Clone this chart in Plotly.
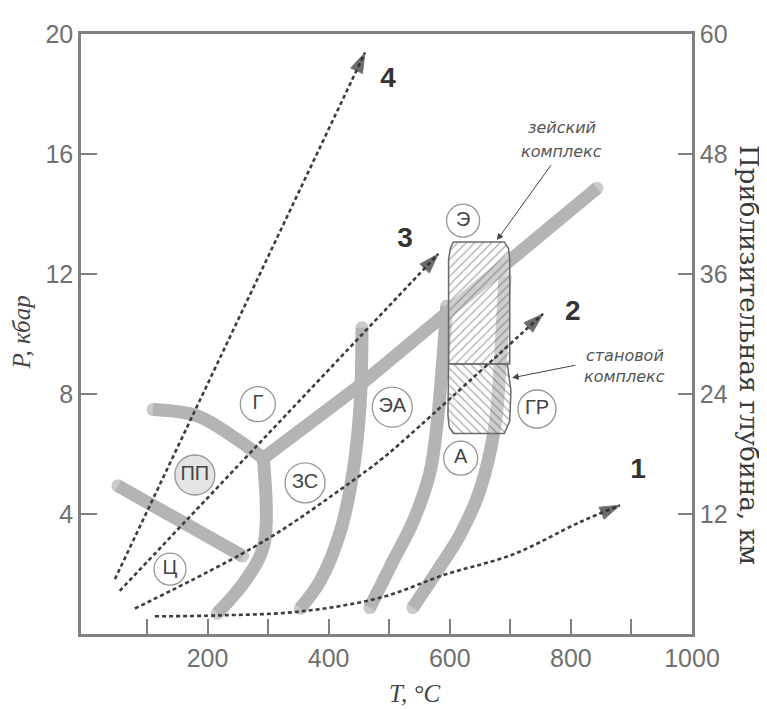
import plotly.graph_objects as go

# ---------------- data (T in °C, P in kbar) ----------------
# facies boundary bands
b_pp_g_T = [110, 183, 242, 292]
b_pp_g_P = [7.48, 7.27, 6.58, 5.86]
b_pp_c_T = [52, 258]
b_pp_c_P = [4.94, 2.60]
b_vert_T = [292, 293, 262, 216]
b_vert_P = [5.86, 2.98, 1.77, 0.69]
b_diag_T = [292, 447, 843]
b_diag_P = [5.86, 8.22, 14.86]
b_zs_ea_T = [455, 452, 440, 419, 386, 353]
b_zs_ea_P = [10.21, 7.66, 5.37, 3.40, 1.77, 0.85]
b_ea_a_T = [595, 579, 567, 539, 506, 468]
b_ea_a_P = [10.93, 7.00, 5.37, 3.73, 2.42, 0.88]
b_a_gr_T = [691, 683, 675, 650, 617, 579, 539]
b_a_gr_P = [11.91, 8.97, 7.00, 4.81, 3.31, 2.09, 0.88]

# hatched complexes
zeya_T = [606, 690, 697, 699, 699, 598, 598, 601]
zeya_P = [13.07, 13.07, 12.85, 12.5, 9.0, 9.0, 12.5, 12.85]
stan_T = [598, 695, 701, 699, 690, 606, 599, 597]
stan_P = [9.0, 9.0, 8.1, 7.1, 6.68, 6.68, 6.9, 7.3]

# geotherm paths
path1_T = [113, 220, 353, 485, 595, 704, 815, 881]
path1_P = [0.59, 0.62, 0.75, 1.21, 2.00, 2.65, 3.73, 4.29]
path2_T = [80, 292, 435, 485, 518, 754]
path2_P = [0.85, 3.08, 5.04, 5.79, 6.35, 10.67]
path3_T = [55, 581]
path3_P = [1.44, 12.67]
path4_T = [47, 460]
path4_P = [1.83, 19.38]

path_nums = ["1", "2", "3", "4"]
path_num_T = [911, 803, 526, 498]
path_num_P = [5.43, 10.70, 13.13, 18.46]

# facies labels
facies = ["Г", "ПП", "ЗС", "Ц", "ЭА", "ГР", "А", "Э"]
facies_T = [283, 179, 361, 138, 505, 744, 618, 622]
facies_P = [7.66, 5.30, 5.04, 2.16, 7.56, 7.50, 5.86, 13.78]
facies_size = [35, 40, 40, 32, 40, 38, 34, 33]

x_tickvals = [100, 200, 300, 400, 500, 600, 700, 800, 900, 1000]
x_ticktext = ["", "200", "", "400", "", "600", "", "800", "", "1000"]
y_tickvals = [4, 8, 12, 16, 20]
y2_tickvals = [12, 24, 36, 48, 60]

# ---------------- figure ----------------
fig = go.Figure()
band_col, band_w = "#b4b4b4", 13
for T, P, shp in [(b_pp_g_T, b_pp_g_P, "spline"), (b_pp_c_T, b_pp_c_P, "linear"),
                  (b_vert_T, b_vert_P, "spline"), (b_diag_T, b_diag_P, "linear"),
                  (b_zs_ea_T, b_zs_ea_P, "spline"), (b_ea_a_T, b_ea_a_P, "spline"),
                  (b_a_gr_T, b_a_gr_P, "spline")]:
    n = len(T)
    fig.add_trace(go.Scatter(x=T, y=P, mode="lines+markers",
                             line=dict(color=band_col, width=band_w, shape=shp),
                             marker=dict(color=band_col, size=[band_w] + [0] * (n - 2) + [band_w],
                                         line=dict(width=0)),
                             hoverinfo="skip", showlegend=False))

for T, P, pat in [(zeya_T, zeya_P, "/"), (stan_T, stan_P, "\\")]:
    fig.add_trace(go.Scatter(x=T + T[:1], y=P + P[:1], mode="lines", fill="toself",
                             line=dict(color="#6a6a6a", width=1.5),
                             fillcolor="rgba(255,255,255,0.35)",
                             fillpattern=dict(shape=pat, fgcolor="#5a5a5a", bgcolor="rgba(255,255,255,0.35)",
                                              size=6, solidity=0.22),
                             hoverinfo="skip", showlegend=False))

for T, P in [(path1_T, path1_P), (path2_T, path2_P), (path3_T, path3_P), (path4_T, path4_P)]:
    n = len(T)
    fig.add_trace(go.Scatter(x=T, y=P, mode="lines+markers",
                             line=dict(color="#3c3c3c", width=2.6, dash="4px,3px", shape="spline"),
                             marker=dict(symbol="arrow", angleref="previous", color="#2e2e2e",
                                         size=[0] * (n - 1) + [21]),
                             hoverinfo="skip", showlegend=False))

fill_cols = ["white"] * len(facies)
fill_cols[1] = "#dadada"
fig.add_trace(go.Scatter(x=facies_T, y=facies_P, mode="markers+text", text=facies,
                         textposition="middle center",
                         textfont=dict(family="Liberation Sans", size=20, color="#444444"),
                         marker=dict(symbol="circle", size=facies_size, color=fill_cols,
                                     line=dict(color="#6a6a6a", width=1.3)),
                         hoverinfo="skip", showlegend=False))

fig.add_trace(go.Scatter(x=path_num_T, y=path_num_P, mode="text", text=path_nums,
                         textfont=dict(family="Liberation Sans", size=28, color="#333333", weight="bold"),
                         hoverinfo="skip", showlegend=False))

# invisible trace for the depth axis
fig.add_trace(go.Scatter(x=[0], y=[0], yaxis="y2", mode="markers",
                         marker=dict(opacity=0), hoverinfo="skip", showlegend=False))

small = dict(family="DejaVu Sans", size=16, color="#555555", style="italic")
fig.add_annotation(x=785, y=16.89, text="зейский", showarrow=False, font=small)
fig.add_annotation(x=785, y=16.07, text="комплекс", showarrow=False, font=small)
fig.add_annotation(x=889, y=9.30, text="становой", showarrow=False, font=small)
fig.add_annotation(x=889, y=8.58, text="комплекс", showarrow=False, font=small)
fig.add_annotation(x=678, y=13.13, ax=769, ay=15.68, axref="x", ayref="y", text="",
                   showarrow=True, arrowhead=2, arrowsize=1.3, arrowwidth=1, arrowcolor="#444")
fig.add_annotation(x=703, y=8.54, ax=810, ay=8.97, axref="x", ayref="y", text="",
                   showarrow=True, arrowhead=2, arrowsize=1.3, arrowwidth=1, arrowcolor="#444")

ser = dict(family="Liberation Serif", size=25, color="#444444", style="italic")
fig.add_annotation(xref="paper", yref="paper", x=(22 - 81) / 611, y=(634 - 327) / 611,
                   xanchor="center", yanchor="middle",
                   text="P, кбар", showarrow=False, textangle=-90, font=ser)
fig.add_annotation(xref="paper", yref="paper", x=(415 - 81) / 611, y=(634 - 695) / 611,
                   xanchor="center", yanchor="middle",
                   text="T, °C", showarrow=False, font=ser)
fig.add_annotation(xref="paper", yref="paper", x=(749 - 81) / 611, y=(634 - 350) / 611,
                   xanchor="center", yanchor="middle",
                   text="Приблизительная глубина, км", showarrow=False, textangle=90,
                   font=dict(family="DejaVu Serif", size=26, color="#3a3a3a"))

axcol = "#808080"
tickfont = dict(family="Liberation Sans", size=25, color="#707070")
fig.update_layout(
    width=759, height=701,
    margin=dict(l=73, r=75, t=15, b=75),
    paper_bgcolor="white", plot_bgcolor="white",
    xaxis=dict(range=[-9, 1000], showgrid=False, zeroline=False, showline=True, mirror=True,
               linecolor=axcol, linewidth=2.5, ticks="inside", ticklen=15, tickwidth=2,
               tickcolor=axcol, tickvals=x_tickvals, ticktext=x_ticktext, tickfont=tickfont),
    yaxis=dict(range=[0, 20], showgrid=False, zeroline=False, showline=True,
               linecolor=axcol, linewidth=2.5, ticks="inside", ticklen=16, tickwidth=2,
               tickcolor=axcol, tickvals=y_tickvals, tickfont=tickfont),
    yaxis2=dict(range=[0, 60], overlaying="y", side="right", showgrid=False, zeroline=False,
                showline=True, linecolor=axcol, linewidth=2.5, ticks="inside", ticklen=14,
                tickwidth=2, tickcolor=axcol, tickvals=y2_tickvals, tickfont=tickfont),
    showlegend=False,
)

fig.write_html("out.html")
